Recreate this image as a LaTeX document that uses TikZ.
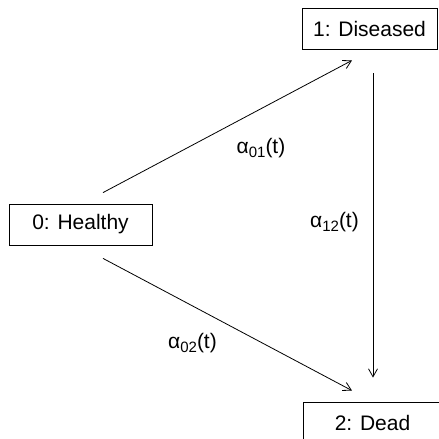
\documentclass[tikz,border=0pt]{standalone}
\usepackage{fontspec}
\setmainfont{Liberation Sans}
\usetikzlibrary{arrows.meta}
\newcommand{\ratesub}[1]{\raisebox{-4pt}{\fontsize{15}{15}\selectfont #1}}
\begin{document}
\begin{tikzpicture}[x=1pt,y=1pt,
        state/.style={draw,line width=0.8pt,minimum height=41pt,inner sep=0pt,font=\fontsize{21}{25}\selectfont},
        rate/.style={font=\fontsize{21}{25}\selectfont},
        >={Straight Barb[length=8pt,width=9pt]}]
        \clip (0,0) rectangle (439,439);
        \node[state,minimum width=143pt] (H) at (80.5,214.5){0: Healthy};
        \node[state,minimum width=135pt] (D) at (369.5,410.5){1: Diseased};
        \node[state,minimum width=139pt] (X) at (372.5,16.5){2: Dead};

        \node[rate] (a01) at (261,291){α\ratesub{01}(t)};
        \node[rate] (a12) at (334.5,217){α\ratesub{12}(t)};
        \node[rate] (a02) at (192.5,96){α\ratesub{02}(t)};

        \draw[->,line width=0.8pt] ([xshift=22.5pt,yshift=11pt]H.north)--([xshift=-17.5pt,yshift=-11pt]D.south);
        \draw[->,line width=0.8pt] ([xshift=22.5pt,yshift=-13pt]H.south)--([xshift=-20.5pt,yshift=11pt]X.north);
        \draw[->,line width=0.8pt] ([xshift=3.5pt,yshift=-24pt]D.south)--([xshift=0.5pt,yshift=24pt]X.north);
    \end{tikzpicture}
\end{document}
